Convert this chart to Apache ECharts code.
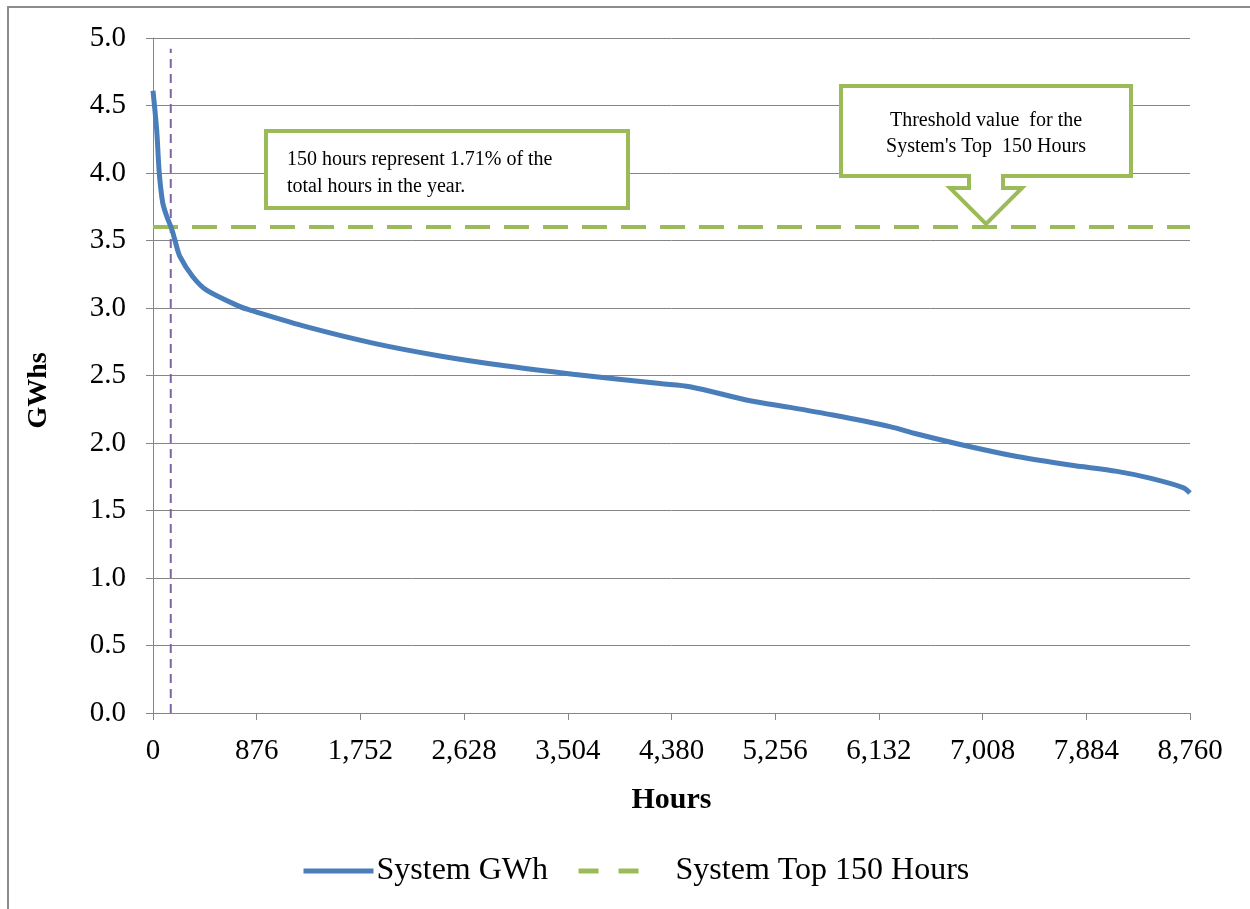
<!DOCTYPE html>
<html>
	<head>
		<meta charset="utf-8" />
		<title>System load duration curve</title>
		<style type="text/css">
			html, body {margin:0;padding:0;background:#fff;}
			#chart {width:1250px;height:909px;}
		</style>
	</head>
	<body>
		<div id="chart"></div>
		<script src="https://cdn.jsdelivr.net/npm/echarts@6/dist/echarts.min.js"></script>
		<script type="text/javascript">
			// data
			const hours = [0, 31, 53, 82, 116, 160, 186, 228, 338, 456, 735, 819, 1301, 1858, 2424, 2990, 3548, 4283, 4536, 5043, 5381, 5744, 6226, 6454, 6876, 7299, 7746, 8143, 8422, 8701, 8760];
			const gwh = [4.61, 4.32, 4.00, 3.78, 3.68, 3.58, 3.50, 3.38, 3.23, 3.13, 3.01, 2.985, 2.86, 2.74, 2.645, 2.57, 2.51, 2.44, 2.417, 2.313, 2.264, 2.207, 2.121, 2.067, 1.978, 1.90, 1.837, 1.79, 1.74, 1.67, 1.63];
			const topHours = 150;
			const thresholdGwh = 3.6;
			const markerTop = 4.92;
			const xTicks = [0, 876, 1752, 2628, 3504, 4380, 5256, 6132, 7008, 7884, 8760];

			const serif = '"Liberation Serif", "DejaVu Serif", serif';
			const gray = '#868686';

			const chart = echarts.init(document.getElementById('chart'));
			const opt = {
				animation: false,
				backgroundColor: '#fff',
				grid: {left: 153, right: 60, top: 38, bottom: 196, containLabel: false},
				legend: {
					bottom: 17,
					left: 296,
					itemWidth: 70,
					itemHeight: 12,
					itemGap: 28,
					itemStyle: {opacity: 0},
					data: [
						{name: 'System GWh', lineStyle: {width: 5}},
						{name: 'System Top 150 Hours', lineStyle: {width: 5, type: [20, 20]}, textStyle: {padding: [0, 0, 0, 22]}}
					],
					textStyle: {fontFamily: serif, fontSize: 32, color: '#000', padding: [0, 0, 0, -2]}
				},
				xAxis: {
					type: 'value',
					min: xTicks[0],
					max: xTicks[xTicks.length - 1],
					interval: 876,
					name: 'Hours',
					nameLocation: 'middle',
					nameGap: 72,
					nameTextStyle: {fontFamily: serif, fontSize: 30, fontWeight: 'bold', color: '#000'},
					axisLine: {lineStyle: {color: gray, width: 1}},
					axisTick: {show: true, length: 7, lineStyle: {color: gray}},
					axisLabel: {
						fontFamily: serif, fontSize: 29, color: '#000', margin: 24,
						formatter: v => v.toLocaleString('en-US')
					},
					splitLine: {show: false}
				},
				yAxis: {
					type: 'value',
					min: 0,
					max: 5,
					interval: 0.5,
					name: 'GWhs',
					nameLocation: 'middle',
					nameGap: 100,
					nameTextStyle: {fontFamily: serif, fontSize: 28, fontWeight: 'bold', color: '#000', padding: [0, 0, 0, -30]},
					axisLine: {show: true, lineStyle: {color: gray, width: 1}},
					axisTick: {show: true, length: 7, lineStyle: {color: gray}},
					axisLabel: {
						fontFamily: serif, fontSize: 29, color: '#000', margin: 27,
						formatter: v => v.toFixed(1)
					},
					splitLine: {lineStyle: {color: gray, width: 1}}
				},
				series: [{
					name: 'System GWh',
					type: 'line',
					smooth: 0.3,
					symbol: 'none',
					color: '#4A7EBB',
					lineStyle: {color: '#4A7EBB', width: 5},
					data: hours.map((h, i) => [h, gwh[i]]),
					z: 3
				}, {
					name: 'System Top 150 Hours',
					type: 'line',
					symbol: 'none',
					color: '#9BBB59',
					lineStyle: {color: '#9BBB59', width: 4, type: [25, 14]},
					data: [[xTicks[0], thresholdGwh], [xTicks[xTicks.length - 1], thresholdGwh]],
					z: 2
				}, {
					name: 'Top hours marker',
					type: 'line',
					symbol: 'none',
					color: '#8064A2',
					lineStyle: {color: '#8064A2', width: 2, type: [9, 6]},
					data: [[topHours, 0], [topHours, markerTop]],
					z: 2
				}],
				graphic: [
					// outer frame (left and top edges only are visible)
					{type: 'polyline', shape: {points: [[8, 909], [8, 7], [1250, 7]]}, style: {stroke: '#8c8c8c', lineWidth: 2, fill: null}},
					// note box
					{type: 'rect', shape: {x: 266, y: 131, width: 362, height: 77}, style: {fill: '#fff', stroke: '#9BBB59', lineWidth: 4}, z: 10},
					{type: 'text', left: 287, top: 146, style: {text: '150 hours represent 1.71% of the\ntotal hours in the year.', font: '20px ' + serif, fill: '#000', lineHeight: 27}, z: 11},
					// callout box with arrow
					{type: 'polygon', shape: {points: [[841, 86], [1131, 86], [1131, 176], [1003, 176], [1003, 188], [1022, 188], [986, 224], [950, 188], [969, 188], [969, 176], [841, 176]]}, style: {fill: '#fff', stroke: '#9BBB59', lineWidth: 4, lineJoin: 'miter'}, z: 10},
					{type: 'text', x: 986, y: 108, style: {text: "Threshold value  for the\nSystem's Top  150 Hours", font: '20px ' + serif, fill: '#000', lineHeight: 26, align: 'center'}, z: 11}
				]
			};
			chart.setOption(opt);
		</script>
	</body>
</html>
